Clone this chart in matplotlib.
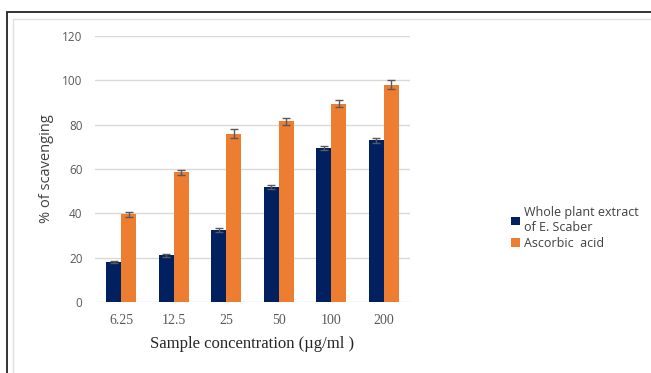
import numpy as np
import matplotlib
matplotlib.use('Agg')
import matplotlib.pyplot as plt
from matplotlib.patches import Rectangle

# data
conc = ['6.25', '12.5', '25', '50', '100', '200']
extract = [18, 21, 32.5, 52, 69.5, 73]
extract_err = [0.5, 0.6, 0.8, 1.0, 1.0, 1.2]
ascorbic = [39.5, 58.5, 76, 81.5, 89.5, 98]
ascorbic_err = [1.0, 1.0, 2.0, 1.6, 1.6, 2.0]

navy = '#002060'
orange = '#ED7D31'
grey = '#595959'

fig = plt.figure(figsize=(6.51, 3.73), dpi=100)

# frame lines around the chart
fig.patches.append(Rectangle((7/651, -0.1), 1.0, 1 - 12/373 + 0.1, transform=fig.transFigure,
                             fill=False, edgecolor='#222222', lw=1.3))
fig.patches.append(Rectangle((13/651, -0.1), 1.0, 1 - 19/373 + 0.1, transform=fig.transFigure,
                             fill=False, edgecolor='#e0e0e0', lw=1.0))

ax = fig.add_axes([95/651, 1 - 302/373, 315/651, 266/373])

x = np.arange(len(conc))
w = 0.285
ax.bar(x - w/2, extract, w, color=navy, yerr=extract_err, capsize=3,
       error_kw=dict(ecolor=grey, elinewidth=1, capthick=1), label='Whole plant extract\nof E. Scaber', zorder=3)
ax.bar(x + w/2, ascorbic, w, color=orange, yerr=ascorbic_err, capsize=3,
       error_kw=dict(ecolor=grey, elinewidth=1, capthick=1), label='Ascorbic  acid', zorder=3)

ax.set_xlim(-0.5, 5.5)
ax.set_ylim(0, 120)
ax.set_yticks(range(0, 121, 20))
ax.yaxis.grid(True, color='#d9d9d9', lw=1)
ax.set_axisbelow(True)
for s in ax.spines.values():
    s.set_visible(False)
ax.tick_params(length=0)
ax.tick_params(axis='y', labelsize=8.5, labelcolor=grey, pad=9)
ax.set_xticks(x)
ax.set_xticklabels(conc, family='Liberation Serif', fontsize=10, color=grey)
ax.tick_params(axis='x', pad=9)
ax.set_xlabel('Sample concentration (µg/ml )', family='Liberation Serif', fontsize=12, color='#262626', labelpad=6)
ax.set_ylabel('% of scavenging', fontsize=10.5, color='#404040', family='Open Sans', labelpad=6)
for t in ax.get_yticklabels():
    t.set_family('Open Sans')

ax.legend(loc='center left', bbox_to_anchor=(500/651, 1 - 228/373), bbox_transform=fig.transFigure,
          frameon=False, handlelength=0.7, handleheight=0.7, handletextpad=0.3,
          labelspacing=0.2, prop={'family': 'Open Sans', 'size': 9}, labelcolor='#404040')

fig.savefig('out.png', dpi=100)
